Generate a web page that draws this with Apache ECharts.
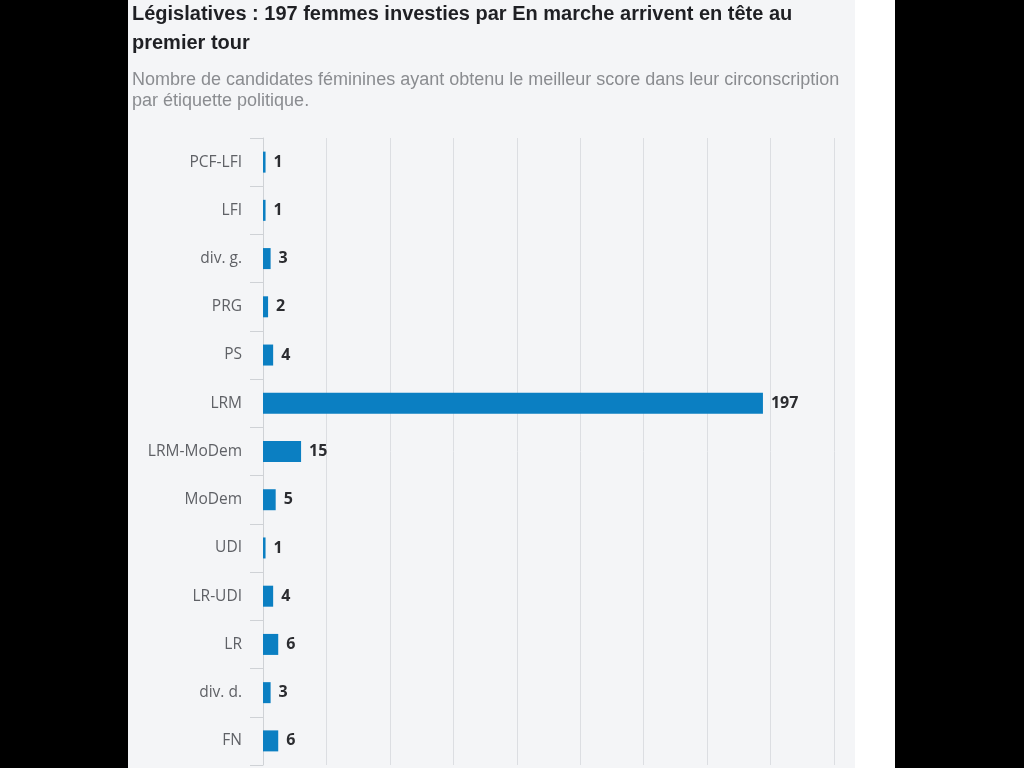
<!DOCTYPE html>
<html>
<head>
<meta charset="utf-8">
<script src="https://cdn.jsdelivr.net/npm/echarts@6/dist/echarts.min.js"></script>
<style>
html,body{margin:0;padding:0;background:#000;width:1024px;height:768px;overflow:hidden;}
#panel{position:absolute;left:128px;top:0;width:727px;height:768px;background:#f4f5f7;}
#white{position:absolute;left:855px;top:0;width:40px;height:768px;background:#ffffff;}
#chart{position:absolute;left:0;top:0;width:1024px;height:768px;}
</style>
</head>
<body>
<div id="panel"></div>
<div id="white"></div>
<div id="chart"></div>
<script>
const categories = ["PCF-LFI","LFI","div. g.","PRG","PS","LRM","LRM-MoDem","MoDem","UDI","LR-UDI","LR","div. d.","FN"];
const values = [1,1,3,2,4,197,15,5,1,4,6,3,6];
const titleText = "Législatives : 197 femmes investies par En marche arrivent en tête au\npremier tour";
const subText = "Nombre de candidates féminines ayant obtenu le meilleur score dans leur circonscription\npar étiquette politique.";

const chart = echarts.init(document.getElementById('chart'), null, {renderer:'canvas'});
chart.setOption({
  backgroundColor: 'transparent',
  animation: false,
  title: [
    {text: titleText, left: 132, top: 0, padding: 0,
     textStyle: {fontFamily: 'Liberation Sans, Arial, sans-serif', fontSize: 20, fontWeight: 'bold', color: '#1f2024', lineHeight: 29}},
    {text: subText, left: 132, top: 70, padding: 0,
     textStyle: {fontFamily: 'Liberation Sans, Arial, sans-serif', fontSize: 18, fontWeight: 'normal', color: '#8a8c90', lineHeight: 21}}
  ],
  grid: {left: 263, right: 190, top: 138, bottom: 3, containLabel: false},
  xAxis: {
    type: 'value', min: 0, max: 225, interval: 25,
    axisLabel: {show: false}, axisLine: {show: false}, axisTick: {show: false},
    splitLine: {show: true, lineStyle: {color: '#dcdee2', width: 1}}
  },
  yAxis: {
    type: 'category', data: categories, inverse: true,
    axisLine: {show: true, lineStyle: {color: '#cfd2d6', width: 1}},
    axisTick: {show: true, length: 13, interval: 0, lineStyle: {color: '#cfd2d6'}},
    axisLabel: {margin: 21, color: '#5f6166', fontSize: 15.5, fontFamily: 'Open Sans, sans-serif'}
  },
  series: [{
    type: 'bar', data: values, barWidth: 21,
    itemStyle: {color: '#0b7fc2'},
    label: {show: true, position: 'right', distance: 8, color: '#2b2c30', fontWeight: 'bold', fontSize: 16, fontFamily: 'Open Sans, sans-serif'}
  }]
});
</script>
</body>
</html>
